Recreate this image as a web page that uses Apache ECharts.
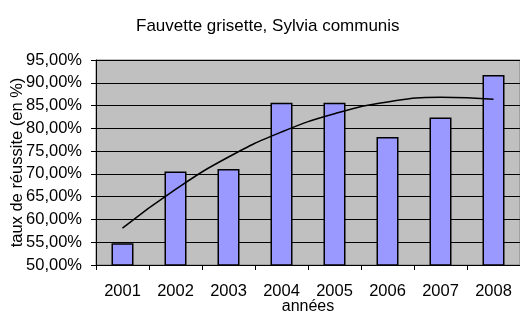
<!DOCTYPE html>
<html>
<head>
<meta charset="utf-8">
<script src="https://cdn.jsdelivr.net/npm/echarts@6/dist/echarts.min.js"></script>
<style>
  html, body { margin: 0; padding: 0; background: #fff; }
  #main { width: 520px; height: 314px; }
</style>
</head>
<body>
<div id="main"></div>
<script>
// années
var years = ["2001", "2002", "2003", "2004", "2005", "2006", "2007", "2008"];
// taux de réussite (en %)
var taux = [54.8, 70.5, 71.1, 85.6, 85.6, 78.1, 82.4, 91.7];
// courbe de tendance (polynomiale)
var tendance = [58.1, 66.6, 73.7, 79.2, 83.2, 85.8, 86.8, 86.4];

var myChart = echarts.init(document.getElementById("main"));
var font = "Liberation Sans, Arial, sans-serif";

myChart.setOption({
  animation: false,
  title: {
    text: "Fauvette grisette, Sylvia communis",
    left: 131,
    top: 13,
    textStyle: { fontFamily: font, fontSize: 17, fontWeight: "normal", color: "#000" }
  },
  grid: {
    left: 96,
    right: 0,
    top: 60,
    bottom: 49,
    outerBoundsMode: "none",
    containLabel: false,
    show: true,
    backgroundColor: "#C0C0C0",
    borderColor: "#808080",
    borderWidth: 1
  },
  xAxis: {
    type: "category",
    data: years,
    name: "années",
    nameLocation: "middle",
    nameGap: 34,
    nameMoveOverlap: false,
    nameTextStyle: { fontFamily: font, fontSize: 16, color: "#000", lineHeight: 16 },
    axisLine: { lineStyle: { color: "#000" } },
    axisTick: { show: true, length: 5, lineStyle: { color: "#000" } },
    axisLabel: { fontFamily: font, fontSize: 16.5, color: "#000", margin: 18 }
  },
  yAxis: {
    type: "value",
    min: 50,
    max: 95,
    interval: 5,
    name: "taux de réussite (en %)",
    nameLocation: "middle",
    nameGap: 70,
    nameMoveOverlap: false,
    nameTextStyle: { fontFamily: font, fontSize: 16.5, color: "#000", lineHeight: 17 },
    axisLine: { show: true, lineStyle: { color: "#000" } },
    axisTick: { show: true, length: 5, lineStyle: { color: "#000" } },
    axisLabel: {
      fontFamily: font,
      fontSize: 16.5,
      color: "#000",
      margin: 14,
      formatter: function (v) {
        return v.toFixed(2).replace(".", ",") + "%";
      }
    },
    splitLine: { show: true, lineStyle: { color: "#000", width: 1 } }
  },
  series: [
    {
      type: "bar",
      data: taux,
      barWidth: 22,
      itemStyle: { color: "#9999FF", borderColor: "#000", borderWidth: 1.5 }
    },
    {
      type: "line",
      data: tendance,
      smooth: true,
      symbol: "none",
      lineStyle: { color: "#000", width: 1.5 }
    }
  ]
});
</script>
</body>
</html>
